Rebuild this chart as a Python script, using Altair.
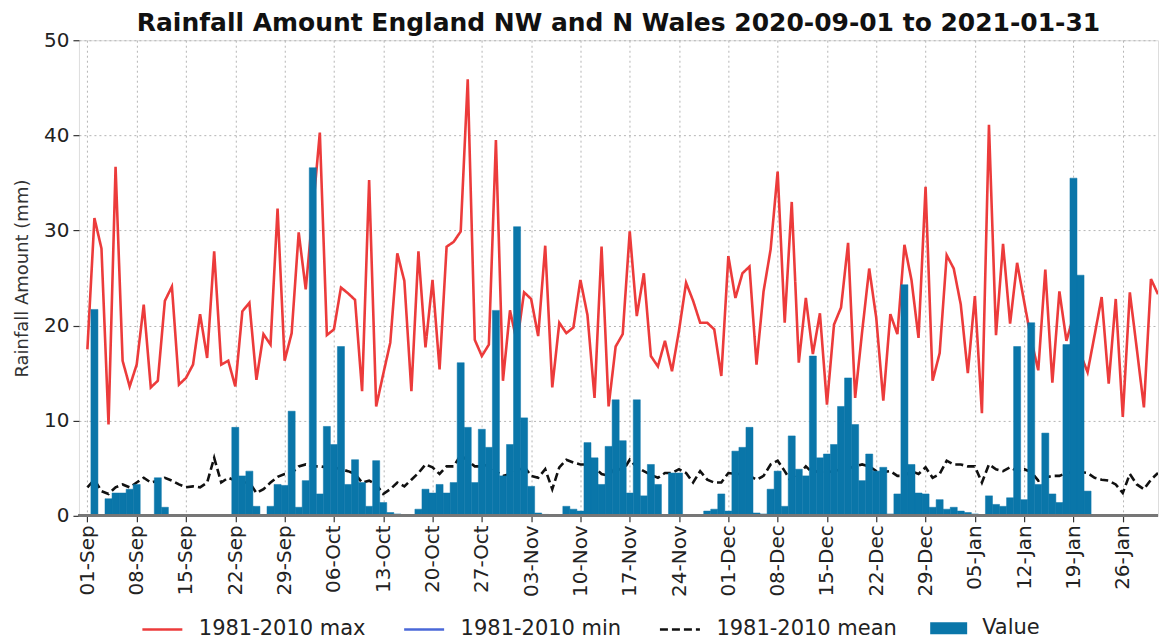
import altair as alt
import pandas as pd

# ---- data (daily, 2020-09-01 .. 2021-01-31) ----
days = list(range(153))  # day 0 = 2020-09-01

max_1981_2010 = [
    17.5, 31.3, 28.1, 9.6, 36.7, 16.3, 13.6, 15.9, 22.2, 13.5,
    14.2, 22.6, 24.1, 13.8, 14.5, 15.9, 21.2, 16.6, 27.8, 15.9,
    16.3, 13.6, 21.5, 22.4, 14.3, 19.1, 18.0, 32.3, 16.3, 19.2,
    29.8, 23.8, 32.0, 40.3, 19.0, 19.6, 24.0, 23.4, 22.7, 13.1,
    35.3, 11.5, 14.9, 18.2, 27.6, 24.7, 13.1, 27.8, 17.7, 24.8,
    15.4, 28.3, 28.8, 29.9, 45.9, 18.5, 16.8, 18.0, 39.5, 14.2,
    21.6, 18.2, 23.5, 22.8, 18.9, 28.4, 13.5, 20.3, 19.2, 19.8,
    24.8, 21.1, 12.4, 28.3, 11.5, 17.8, 19.1, 29.9, 21.0, 25.5,
    16.8, 15.7, 18.4, 15.2, 19.5, 24.5, 22.6, 20.3, 20.3, 19.6,
    14.7, 27.3, 22.9, 25.5, 26.2, 15.9, 23.6, 28.0, 36.2, 20.3,
    33.0, 16.1, 22.9, 17.0, 21.3, 11.7, 20.1, 21.9, 28.7, 12.4,
    19.4, 26.0, 20.8, 12.1, 21.2, 19.1, 28.5, 24.8, 18.7, 34.6,
    14.2, 17.1, 27.4, 26.0, 22.2, 15.0, 23.1, 10.8, 41.1, 19.0,
    28.6, 20.2, 26.6, 22.5, 18.5, 15.3, 25.9, 14.0, 23.6, 18.4,
    21.0, 17.0, 15.1, 19.0, 23.0, 13.9, 22.8, 10.4, 23.5, 17.5,
    11.4, 24.9, 23.3,
]

# the 1981-2010 minimum sits on the zero line for every day
min_1981_2010 = [0.0] * 153

mean_1981_2010 = [
    3.0, 3.8, 2.6, 2.3, 3.0, 3.3, 3.0, 3.5, 4.0, 3.5,
    3.7, 4.0, 3.7, 3.3, 3.0, 3.1, 3.0, 3.5, 6.1, 3.5,
    4.0, 3.7, 3.5, 3.5, 2.4, 2.8, 3.5, 4.1, 4.4, 4.5,
    5.2, 5.4, 5.2, 5.2, 5.1, 5.1, 4.9, 4.7, 4.4, 3.5,
    3.7, 3.3, 2.3, 2.8, 3.5, 3.1, 3.8, 4.5, 5.4, 5.1,
    4.4, 5.2, 5.2, 6.4, 5.8, 5.2, 5.2, 5.4, 4.7, 4.2,
    4.4, 4.7, 5.2, 4.2, 4.0, 4.9, 2.8, 5.1, 5.9, 5.6,
    5.4, 5.4, 5.1, 4.4, 4.2, 5.1, 4.7, 5.9, 5.1, 4.7,
    4.3, 4.0, 4.5, 4.5, 4.9, 4.5, 3.5, 4.7, 3.8, 3.5,
    3.5, 4.5, 4.4, 4.4, 4.2, 3.8, 4.2, 5.4, 5.8, 4.7,
    3.5, 4.4, 5.2, 4.5, 4.8, 4.6, 4.7, 4.9, 5.0, 5.2,
    5.4, 5.2, 4.7, 4.6, 4.7, 4.2, 4.2, 4.7, 4.4, 5.1,
    4.0, 4.4, 5.8, 5.4, 5.4, 5.2, 5.2, 3.5, 5.4, 4.9,
    4.7, 5.1, 4.7, 4.9, 4.6, 3.7, 4.0, 4.2, 4.2, 4.5,
    4.6, 4.6, 4.5, 4.0, 3.8, 3.7, 3.3, 2.4, 4.4, 3.3,
    2.8, 3.8, 4.5,
]

value = [
    0.0, 21.7, 0.1, 1.8, 2.4, 2.4, 2.8, 3.3, 0.0, 0.0,
    4.0, 0.9, 0.0, 0.0, 0.0, 0.0, 0.0, 0.0, 0.0, 0.0,
    0.0, 9.3, 4.2, 4.7, 1.0, 0.1, 1.0, 3.3, 3.2, 11.0,
    0.9, 3.7, 36.6, 2.3, 9.4, 7.5, 17.8, 3.3, 5.9, 3.5,
    1.0, 5.8, 1.4, 0.35, 0.2, 0.1, 0.1, 0.7, 2.8, 2.4,
    3.3, 2.4, 3.5, 16.1, 9.3, 3.5, 9.1, 7.2, 21.6, 4.2,
    7.5, 30.4, 10.3, 3.1, 0.3, 0.15, 0.1, 0.1, 1.0, 0.7,
    0.5, 7.7, 6.1, 3.3, 7.3, 12.2, 7.9, 2.4, 12.2, 2.1,
    5.4, 3.3, 0.1, 4.5, 4.5, 0.0, 0.0, 0.0, 0.5, 0.7,
    2.3, 0.5, 6.8, 7.2, 9.3, 0.3, 0.2, 2.8, 4.7, 1.0,
    8.4, 4.9, 4.2, 16.8, 6.1, 6.5, 7.5, 11.5, 14.5, 9.6,
    3.7, 6.5, 4.7, 5.1, 0.2, 2.3, 24.3, 5.4, 2.4, 2.3,
    0.9, 1.7, 0.7, 0.9, 0.5, 0.35, 0.2, 0.0, 2.1, 1.2,
    1.0, 1.9, 17.8, 1.7, 20.3, 3.3, 8.7, 2.3, 1.4, 18.0,
    35.5, 25.3, 2.6, 0.0, 0.0, 0.0, 0.0, 0.0, 0.0, 0.0,
    0.0, 0.0, 0.0,
]

tick_days = list(range(0, 148, 7))
tick_labels = [
    "01-Sep", "08-Sep", "15-Sep", "22-Sep", "29-Sep", "06-Oct", "13-Oct",
    "20-Oct", "27-Oct", "03-Nov", "10-Nov", "17-Nov", "24-Nov", "01-Dec",
    "08-Dec", "15-Dec", "22-Dec", "29-Dec", "05-Jan", "12-Jan", "19-Jan",
    "26-Jan",
]
y_ticks = [0, 10, 20, 30, 40, 50]

series_names = ["1981-2010 max", "1981-2010 min", "1981-2010 mean"]
line_colors = ["#ec3b3b", "#4a68d8", "#111111"]
bar_color = "#0a76a9"

# ---- tables ----
lines_df = pd.DataFrame({
    "day": days * 3,
    "amount": max_1981_2010 + min_1981_2010 + mean_1981_2010,
    "series": [series_names[0]] * 153 + [series_names[1]] * 153 + [series_names[2]] * 153,
})
bars_df = pd.DataFrame({"day": days, "amount": value, "kind": ["Value"] * 153})

FONT = "DejaVu Sans"
label_expr = "[" + ",".join(f"'{t}'" for t in tick_labels) + "][round(datum.value / 7)]"

x_scale = alt.Scale(domain=[-1.2, 152.0], nice=False, zero=False)
y_scale = alt.Scale(domain=[0, 50], nice=False)

x_axis = alt.Axis(
    values=tick_days, labelExpr=label_expr, labelAngle=270, labelFontSize=20,
    labelFont=FONT, labelColor="#222", labelPadding=3, tickSize=6, tickColor="#333",
    tickWidth=1.2, grid=True, gridDash=[2, 3], gridColor="#b5b5b5", domain=False,
    title=None, labelOverlap=False,
)
y_axis = alt.Axis(
    values=y_ticks, labelFontSize=20, labelFont=FONT, labelColor="#222",
    labelPadding=4, tickSize=6, tickColor="#333", tickWidth=1.2, grid=True,
    gridDash=[2, 3], gridColor="#b5b5b5", domain=False,
    title="Rainfall Amount (mm)", titleFontSize=18, titleFont=FONT,
    titleFontWeight="normal", titleColor="#333", titlePadding=12,
)

line_legend = alt.Legend(
    orient="none", legendX=62, legendY=568, direction="horizontal", title=None,
    symbolType="stroke", symbolSize=1600, symbolStrokeWidth=2.6,
    labelFontSize=21, labelFont=FONT, labelColor="#222", labelOffset=15,
    labelLimit=0, columnPadding=33, padding=0,
)
bar_legend = alt.Legend(
    orient="none", legendX=852, legendY=570, direction="horizontal", title=None,
    symbolType="M-1,-0.33H1V0.33H-1Z", symbolSize=1369, symbolStrokeWidth=0,
    labelFontSize=21, labelFont=FONT, labelColor="#222", labelOffset=15,
    labelLimit=0, padding=0,
)

lines = alt.Chart(lines_df).mark_line(strokeWidth=2.6, clip=True).encode(
    x=alt.X("day:Q", scale=x_scale, axis=x_axis),
    y=alt.Y("amount:Q", scale=y_scale, axis=y_axis),
    color=alt.Color("series:N", scale=alt.Scale(domain=series_names, range=line_colors),
                    legend=line_legend),
    strokeDash=alt.StrokeDash("series:N",
                              scale=alt.Scale(domain=series_names, range=[[1, 0], [1, 0], [8, 4]]),
                              legend=line_legend),
    order=alt.Order("day:Q"),
)

bars = alt.Chart(bars_df).transform_calculate(
    x0="datum.day - 0.5", x1="datum.day + 0.5"
).mark_bar(stroke=bar_color, strokeWidth=0.5, clip=True).encode(
    x=alt.X("x0:Q", scale=x_scale, axis=x_axis),
    x2="x1:Q",
    y=alt.Y("amount:Q", scale=y_scale, axis=y_axis),
    y2=alt.datum(0),
    fill=alt.Fill("kind:N", scale=alt.Scale(domain=["Value"], range=[bar_color]),
                  legend=bar_legend),
)

# bottom spine of the axes frame, drawn on top like matplotlib's spine
bottom_spine = alt.Chart(bars_df).mark_rule(color="#777", strokeWidth=2.5).encode(
    y=alt.Y(datum=0, scale=y_scale, axis=y_axis),
)

chart = alt.layer(lines, bars, bottom_spine).properties(
    width=1080, height=476,
    title=alt.TitleParams(
        "Rainfall Amount England NW and N Wales 2020-09-01 to 2021-01-31",
        fontSize=25, fontWeight="bold", font=FONT, anchor="middle", offset=-6, color="#111",
    ),
    padding={"left": 5, "right": 0, "top": 3, "bottom": 0},
).configure_view(stroke="#777", strokeWidth=1.6).configure(font=FONT)

chart.save("out.html", embed_options={"renderer": "svg", "actions": False})
